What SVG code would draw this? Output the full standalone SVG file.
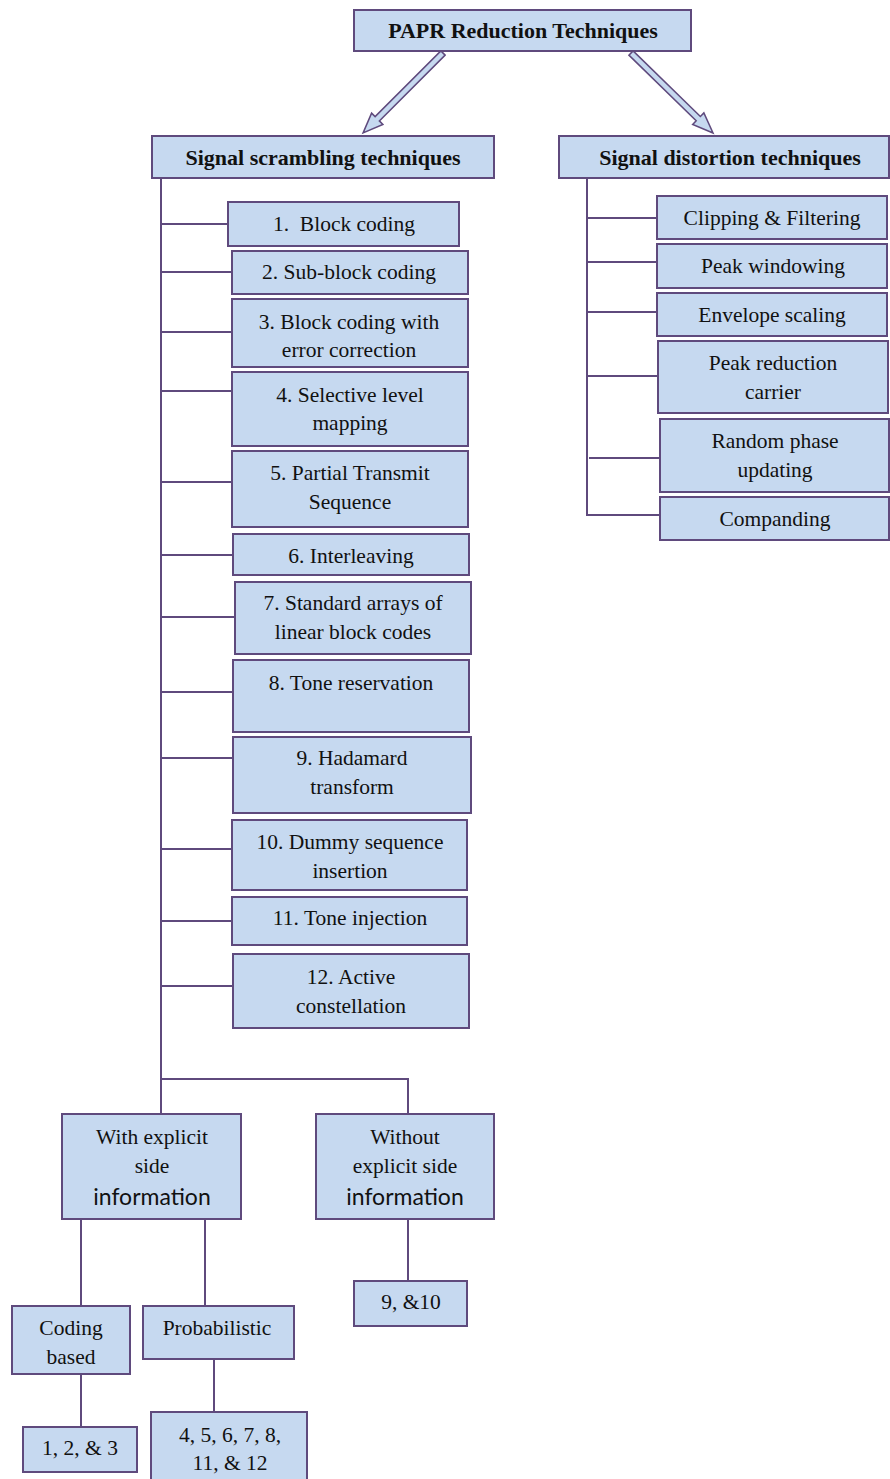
<svg xmlns="http://www.w3.org/2000/svg" width="890" height="1479" viewBox="0 0 890 1479">
<style>
.box{fill:#c6d9f0;stroke:#5f4a7d;stroke-width:2}
.ln{fill:none;stroke:#5f4a7d;stroke-width:2}
.arr{fill:#c6d9f0;stroke:#5f4a7d;stroke-width:1.5;stroke-linejoin:miter}
text{font-family:"Liberation Serif","Times New Roman",serif;font-size:21.5px;fill:#111;text-anchor:middle}
.b{font-weight:bold;font-size:22px}
.s{font-family:Lato,"Liberation Sans",sans-serif;font-size:23px}
</style>
<rect width="890" height="1479" fill="#fff"/>
<g id="connectors">
<polygon class="arr" transform="translate(443,53) rotate(135)" points="0,-3 93,-3 93,-8 113,0 93,8 93,3 0,3"/>
<polygon class="arr" transform="translate(631,53) rotate(44.3)" points="0,-3 94,-3 94,-8 114.6,0 94,8 94,3 0,3"/>
<path class="ln" d="M161,179V1114M161,224H228M161,272H232M161,332H232M161,391H232M161,482H232M161,555H233M161,617H235M161,692H233M161,758H233M161,849H232M161,921H232M161,986H233M161,1079H408V1114"/>
<path class="ln" d="M81,1219V1306M205,1219V1306M408,1219V1281M81,1374V1427M214,1359V1412"/>
<path class="ln" d="M587,178V515H660M587,218H657M587,262H657M587,312H657M587,376H658M589,458H660"/>
</g>
<g id="n-root"><rect class="box" x="354" y="10" width="337" height="41"/><text class="b" x="523" y="38">PAPR Reduction Techniques</text></g>
<g id="n-scrambling"><rect class="box" x="152" y="136" width="342" height="42"/><text class="b" x="323" y="165">Signal scrambling techniques</text></g>
<g id="n-distortion"><rect class="box" x="559" y="136" width="330" height="42"/><text class="b" x="730" y="165">Signal distortion techniques</text></g>
<g id="n-1"><rect class="box" x="228" y="202" width="231" height="44"/><text x="344" y="231" style="white-space:pre">1.  Block coding</text></g>
<g id="n-2"><rect class="box" x="232" y="251" width="236" height="43"/><text x="349" y="279">2. Sub-block coding</text></g>
<g id="n-3"><rect class="box" x="232" y="299" width="236" height="68"/><text x="349" y="329">3. Block coding with</text><text x="349" y="357">error correction</text></g>
<g id="n-4"><rect class="box" x="232" y="372" width="236" height="74"/><text x="350" y="402">4. Selective level</text><text x="350" y="430">mapping</text></g>
<g id="n-5"><rect class="box" x="232" y="451" width="236" height="76"/><text x="350" y="480">5. Partial Transmit</text><text x="350" y="509">Sequence</text></g>
<g id="n-6"><rect class="box" x="233" y="534" width="236" height="41"/><text x="351" y="563">6. Interleaving</text></g>
<g id="n-7"><rect class="box" x="235" y="582" width="236" height="72"/><text x="353" y="610">7. Standard arrays of</text><text x="353" y="639">linear block codes</text></g>
<g id="n-8"><rect class="box" x="233" y="660" width="236" height="72"/><text x="351" y="690">8. Tone reservation</text></g>
<g id="n-9"><rect class="box" x="233" y="737" width="238" height="76"/><text x="352" y="765">9. Hadamard</text><text x="352" y="794">transform</text></g>
<g id="n-10"><rect class="box" x="232" y="820" width="235" height="70"/><text x="350" y="849">10. Dummy sequence</text><text x="350" y="878">insertion</text></g>
<g id="n-11"><rect class="box" x="232" y="897" width="235" height="48"/><text x="350" y="925">11. Tone injection</text></g>
<g id="n-12"><rect class="box" x="233" y="954" width="236" height="74"/><text x="351" y="984">12. Active</text><text x="351" y="1013">constellation</text></g>
<g id="n-with"><rect class="box" x="62" y="1114" width="179" height="105"/><text x="152" y="1144">With explicit</text><text x="152" y="1173">side</text><text class="s" x="152" y="1205">information</text></g>
<g id="n-without"><rect class="box" x="316" y="1114" width="178" height="105"/><text x="405" y="1144">Without</text><text x="405" y="1173">explicit side</text><text class="s" x="405" y="1205">information</text></g>
<g id="n-coding"><rect class="box" x="12" y="1306" width="118" height="68"/><text x="71" y="1335">Coding</text><text x="71" y="1364">based</text></g>
<g id="n-prob"><rect class="box" x="143" y="1306" width="151" height="53"/><text x="217" y="1335">Probabilistic</text></g>
<g id="n-910"><rect class="box" x="354" y="1281" width="113" height="45"/><text x="411" y="1309">9, &amp;10</text></g>
<g id="n-123"><rect class="box" x="23" y="1427" width="114" height="45"/><text x="80" y="1455">1, 2, &amp; 3</text></g>
<g id="n-4to12"><rect class="box" x="151" y="1412" width="156" height="72"/><text x="230" y="1442">4, 5, 6, 7, 8,</text><text x="230" y="1470">11, &amp; 12</text></g>
<g id="n-clip"><rect class="box" x="657" y="196" width="230" height="43"/><text x="772" y="225">Clipping &amp; Filtering</text></g>
<g id="n-peakwin"><rect class="box" x="657" y="244" width="230" height="44"/><text x="773" y="273">Peak windowing</text></g>
<g id="n-env"><rect class="box" x="657" y="293" width="230" height="43"/><text x="772" y="322">Envelope scaling</text></g>
<g id="n-prc"><rect class="box" x="658" y="341" width="230" height="72"/><text x="773" y="370">Peak reduction</text><text x="773" y="399">carrier</text></g>
<g id="n-rpu"><rect class="box" x="660" y="419" width="229" height="73"/><text x="775" y="448">Random phase</text><text x="775" y="477">updating</text></g>
<g id="n-comp"><rect class="box" x="660" y="497" width="229" height="43"/><text x="775" y="526">Companding</text></g>
</svg>
